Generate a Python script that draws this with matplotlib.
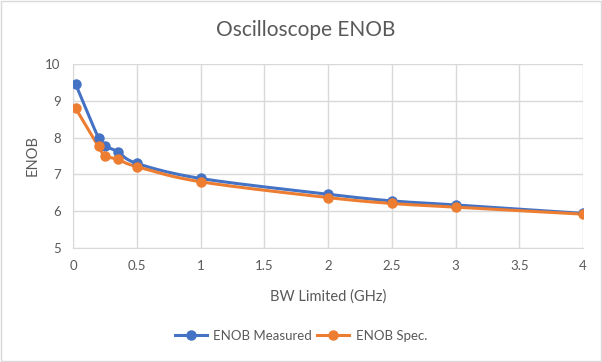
import numpy as np
import matplotlib.pyplot as plt

# datos
bw = [0.02, 0.2, 0.25, 0.35, 0.5, 1, 2, 2.5, 3, 4]
enob_med = [9.46, 7.99, 7.78, 7.62, 7.30, 6.89, 6.46, 6.28, 6.17, 5.94]
enob_spec = [8.80, 7.76, 7.51, 7.41, 7.21, 6.80, 6.37, 6.21, 6.11, 5.92]
xticks = [0, 0.5, 1, 1.5, 2, 2.5, 3, 3.5, 4]
yticks = [5, 6, 7, 8, 9, 10]

plt.rcParams['font.family'] = ['Lato', 'DejaVu Sans']
gris = '#595959'


def suavizar(x, y, n=20):
    # linea suavizada tipo Excel (Catmull-Rom)
    x = np.asarray(x, float)
    y = np.asarray(y, float)
    px = np.concatenate([[x[0]], x, [x[-1]]])
    py = np.concatenate([[y[0]], y, [y[-1]]])
    xs, ys = [], []
    t = np.linspace(0, 1, n)
    for i in range(1, len(px) - 2):
        p0, p1, p2, p3 = px[i - 1], px[i], px[i + 1], px[i + 2]
        q0, q1, q2, q3 = py[i - 1], py[i], py[i + 1], py[i + 2]
        c1x, c1y = p1 + (p2 - p0) / 6, q1 + (q2 - q0) / 6
        c2x, c2y = p2 - (p3 - p1) / 6, q2 - (q3 - q1) / 6
        bx = (1 - t)**3 * p1 + 3 * (1 - t)**2 * t * c1x + 3 * (1 - t) * t**2 * c2x + t**3 * p2
        by = (1 - t)**3 * q1 + 3 * (1 - t)**2 * t * c1y + 3 * (1 - t) * t**2 * c2y + t**3 * q2
        xs.extend(bx)
        ys.extend(by)
    return xs, ys


fig = plt.figure(figsize=(6.02, 3.62), dpi=100)
ax = fig.add_axes([73 / 602, 1 - 248 / 362, 510 / 602, 184 / 362])

for y, c, lab in [(enob_med, '#4472C4', 'ENOB Measured'), (enob_spec, '#ED7D31', 'ENOB Spec.')]:
    sx, sy = suavizar(bw, y)
    ax.plot(sx, sy, color=c, lw=2.2, zorder=3)
    ax.plot(bw, y, 'o', color=c, ms=6.5, zorder=4)
    ax.plot([], [], '-o', color=c, lw=2.2, ms=6.5, label=lab)

ax.set_xlim(0, 4)
ax.set_ylim(5, 10)
ax.set_xticks(xticks)
ax.set_xticklabels([str(v) for v in xticks])
ax.set_yticks(yticks)
ax.grid(True, color='#D9D9D9', lw=1)
ax.set_axisbelow(True)
for s in ['top', 'right']:
    ax.spines[s].set_visible(False)
for s in ['left', 'bottom']:
    ax.spines[s].set_color('#D9D9D9')
ax.tick_params(length=0, labelsize=9.5, colors=gris, pad=9)
ax.set_xlabel('BW Limited (GHz)', fontsize=10.5, color=gris, labelpad=12)
ax.set_ylabel('ENOB', fontsize=10.5, color=gris, labelpad=4)
fig.text(0.507, 1 - 30 / 362, 'Oscilloscope ENOB', fontsize=15, color=gris,
         ha='center', va='center')
fig.legend(loc='center', bbox_to_anchor=(0.5, 1 - 336 / 362), ncol=2, frameon=False,
           fontsize=9.5, labelcolor=gris, handlelength=2.4, handletextpad=0.5,
           columnspacing=0.4)
fig.patches.append(plt.Rectangle((0.001, 0.002), 0.997, 0.996, transform=fig.transFigure,
                                 fill=False, ec='#D9D9D9', lw=1))

fig.savefig('out.png', dpi=100)
